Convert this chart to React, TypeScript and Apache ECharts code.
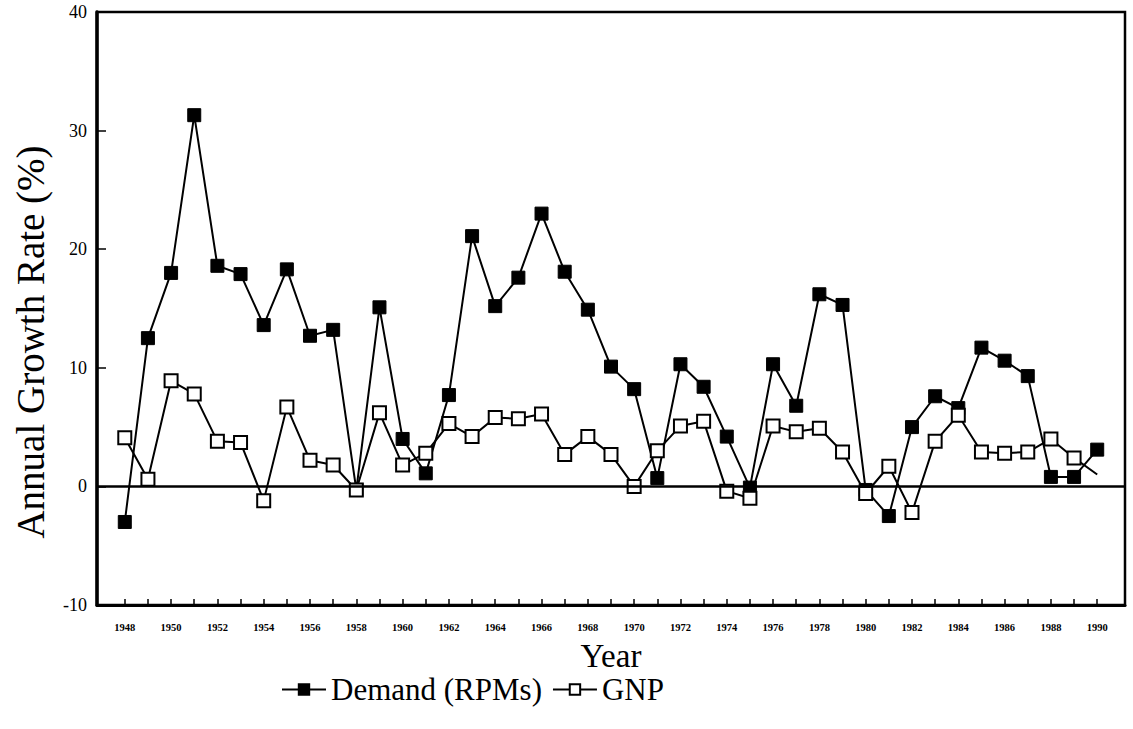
import React, { useEffect, useRef } from "react";
import * as echarts from "echarts";

const years: number[] = [
  1948, 1949, 1950, 1951, 1952, 1953, 1954, 1955, 1956, 1957,
  1958, 1959, 1960, 1961, 1962, 1963, 1964, 1965, 1966, 1967,
  1968, 1969, 1970, 1971, 1972, 1973, 1974, 1975, 1976, 1977,
  1978, 1979, 1980, 1981, 1982, 1983, 1984, 1985, 1986, 1987,
  1988, 1989, 1990,
];

const demand: number[] = [
  -3.0, 12.5, 18.0, 31.3, 18.6, 17.9, 13.6, 18.3, 12.7, 13.2,
  -0.3, 15.1, 4.0, 1.1, 7.7, 21.1, 15.2, 17.6, 23.0, 18.1,
  14.9, 10.1, 8.2, 0.7, 10.3, 8.4, 4.2, -0.1, 10.3, 6.8,
  16.2, 15.3, -0.3, -2.5, 5.0, 7.6, 6.6, 11.7, 10.6, 9.3,
  0.8, 0.8, 3.1,
];

const gnp: number[] = [
  4.1, 0.6, 8.9, 7.8, 3.8, 3.7, -1.2, 6.7, 2.2, 1.8,
  -0.3, 6.2, 1.8, 2.8, 5.3, 4.2, 5.8, 5.7, 6.1, 2.7,
  4.2, 2.7, 0.0, 3.0, 5.1, 5.5, -0.4, -1.0, 5.1, 4.6,
  4.9, 2.9, -0.6, 1.7, -2.2, 3.8, 6.0, 2.9, 2.8, 2.9,
  4.0, 2.4, 1.0,
];

const tickYears: number[] = years;
const labelYears: number[] = years.filter((y) => y % 2 === 0);

const yTitle = "Annual Growth Rate (%)";
const FONT = "Liberation Serif";

export default function App() {
  const ref = useRef<HTMLDivElement>(null);

  useEffect(() => {
    if (!ref.current) return;
    const chart = echarts.init(ref.current, undefined, { renderer: "svg" });

    const demandData = years.map((y, i) => [y, demand[i]]);
    const gnpData = years.map((y, i) =>
      i === years.length - 1
        ? { value: [y, gnp[i]], symbol: "none" }
        : [y, gnp[i]]
    );

    const serifText = { fontFamily: FONT, fontSize: 31, color: "#000" };

    chart.setOption({
      animation: false,
      backgroundColor: "#fff",
      textStyle: { fontFamily: FONT, color: "#000" },
      grid: {
        left: 97,
        right: 8,
        top: 12,
        bottom: 124,
        show: true,
        borderColor: "#000",
        borderWidth: 2.5,
        backgroundColor: "transparent",
      },
      graphic: [
        {
          type: "text",
          x: 30,
          y: 342,
          rotation: Math.PI / 2,
          style: {
            text: yTitle,
            fontFamily: FONT,
            fontSize: 39,
            fill: "#000",
            align: "center",
            verticalAlign: "middle",
          },
        },
      ],
      legend: {
        left: 276,
        top: 669,
        itemWidth: 44,
        itemHeight: 13,
        itemGap: 10,
        formatter: "{s|{name}}",
        textStyle: {
          fontFamily: FONT,
          fontSize: 31,
          color: "#000",
          rich: { s: serifText },
        },
        data: ["Demand (RPMs)", "GNP"],
      },
      xAxis: {
        type: "value",
        min: 1946.8,
        max: 1991.2,
        name: "Year",
        nameLocation: "middle",
        nameGap: 34,
        nameTextStyle: { fontFamily: FONT, fontSize: 33, color: "#000" },
        axisLine: { show: true, onZero: false, lineStyle: { color: "#000", width: 3 } },
        axisTick: {
          show: true,
          inside: true,
          length: 6,
          customValues: tickYears,
          lineStyle: { color: "#000", width: 1.5 },
        },
        axisLabel: {
          show: true,
          customValues: labelYears,
          formatter: (v: number) => String(Math.round(v)),
          fontFamily: FONT,
          fontSize: 10.5,
          fontWeight: "bold",
          color: "#000",
          margin: 17,
        },
        splitLine: { show: false },
      },
      yAxis: {
        type: "value",
        min: -10,
        max: 40,
        interval: 10,
        axisLine: { show: true, lineStyle: { color: "#000", width: 3.5 } },
        axisTick: { show: true, inside: true, length: 9, lineStyle: { color: "#000", width: 1.5 } },
        axisLabel: { fontFamily: FONT, fontSize: 18, color: "#000", margin: 10 },
        splitLine: { show: false },
      },
      series: [
        {
          name: "Demand (RPMs)",
          type: "line",
          data: demandData,
          symbol: "rect",
          symbolSize: 13,
          lineStyle: { color: "#000", width: 2 },
          itemStyle: { color: "#000", borderColor: "#000", borderWidth: 1 },
          z: 3,
          markLine: {
            silent: true,
            symbol: "none",
            label: { show: false },
            lineStyle: { color: "#000", width: 2.5, type: "solid" },
            data: [{ yAxis: 0 }],
          },
        },
        {
          name: "GNP",
          type: "line",
          data: gnpData,
          symbol: "rect",
          symbolSize: 13,
          lineStyle: { color: "#000", width: 2 },
          itemStyle: { color: "#fff", borderColor: "#000", borderWidth: 2 },
          z: 4,
        },
      ],
    });

    return () => chart.dispose();
  }, []);

  return (
    <div
      ref={ref}
      style={{ position: "fixed", left: 0, top: 0, width: 1133, height: 729, background: "#fff" }}
    />
  );
}
